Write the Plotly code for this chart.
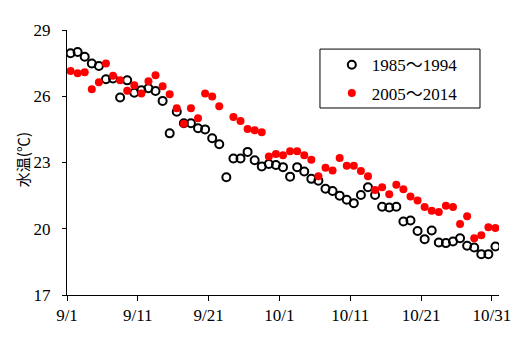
import plotly.graph_objects as go

# ---- data ----
tick_labels = ["9/1", "9/11", "9/21", "10/1", "10/11", "10/21", "10/31"]
tick_day_index = [0, 10, 20, 30, 40, 50, 60]

days = list(range(61))  # 9/1 .. 10/31

temp_1985_1994 = [
    27.95, 28.0, 27.79, 27.48, 27.37, 26.77, 26.8, 25.94, 26.72, 26.16,
    26.27, 26.36, 26.24, 25.79, 24.32, 25.3, 24.78, 24.78, 24.55, 24.5,
    24.1, 23.83, 22.33, 23.18, 23.18, 23.48, 23.1, 22.82, 22.93, 22.89,
    22.79, 22.36, 22.79, 22.59, 22.26, 22.17, 21.81, 21.71, 21.5, 21.31,
    21.16, 21.53, 21.88, 21.53, 21.0, 20.96, 21.0, 20.33, 20.37, 19.9,
    19.53, 19.92, 19.38, 19.35, 19.42, 19.57, 19.23, 19.15, 18.85, 18.85,
    19.2,
]

temp_2005_2014 = [
    27.14, 27.04, 27.09, 26.32, 26.63, 27.48, 26.93, 26.72, 26.25, 26.5,
    26.13, 26.68, 26.95, 26.45, 26.09, 25.46, 24.75, 25.46, 25.0, 26.13,
    25.99, 25.55, None, 25.06, 24.88, 24.52, 24.46, 24.37, 23.27, 23.38,
    23.33, 23.51, 23.51, 23.33, 23.13, 22.38, 22.76, 22.64, 23.2, 22.85,
    22.85, 22.61, 22.38, 21.75, 21.88, 21.56, 21.99, 21.79, 21.46, 21.28,
    20.98, 20.81, 20.76, 21.04, 20.98, 20.21, 20.57, 19.57, 19.71, 20.07,
    20.03,
]

y_ticks = [17, 20, 23, 26, 29]

SERIF = "Liberation Serif, Times New Roman, Noto Sans CJK JP, serif"

fig = go.Figure()
fig.add_trace(go.Scatter(
    x=days, y=temp_1985_1994, mode="markers", name="1985～1994",
    legendgroup="a",
    marker=dict(symbol="circle-open", size=8, color="black",
                line=dict(color="black", width=2)),
))
fig.add_trace(go.Scatter(
    x=days, y=temp_2005_2014, mode="markers", name="2005～2014",
    legendgroup="b",
    marker=dict(symbol="circle", size=8, color="#ff0000"),
))

fig.update_layout(
    width=522, height=355,
    margin=dict(l=67, r=23, t=30, b=60),
    paper_bgcolor="white", plot_bgcolor="white",
    font=dict(family=SERIF, size=17, color="black"),
    showlegend=True,
    legend=dict(
        x=0.613, y=0.935, xanchor="left", yanchor="top",
        borderwidth=0, bgcolor="rgba(0,0,0,0)",
        font=dict(family=SERIF, size=17, color="black"),
        itemwidth=30, tracegroupgap=3,
    ),
    shapes=[dict(
        type="rect", xref="paper", yref="paper",
        x0=0.5856, x1=0.956, y0=0.7057, y1=0.928,
        line=dict(color="black", width=1), fillcolor="rgba(0,0,0,0)",
        layer="below",
    )],
    annotations=[dict(
        text="水温(℃)", textangle=-90, showarrow=False,
        xref="paper", yref="paper", x=-0.104, y=0.509,
        xanchor="center", yanchor="middle",
        font=dict(family="Noto Sans CJK JP, sans-serif", size=15, color="black"),
    )],
)

fig.update_xaxes(
    range=[-0.5, 60.5],
    tickmode="array",
    tickvals=[d - 0.5 for d in tick_day_index],
    ticktext=tick_labels,
    ticks="outside", ticklen=5, tickwidth=1, tickcolor="black",
    showline=True, linecolor="black", linewidth=1,
    showgrid=False, zeroline=False,
)
fig.update_yaxes(
    range=[17, 29],
    tickmode="array", tickvals=y_ticks,
    ticks="outside", ticklen=4, tickwidth=1, tickcolor="black",
    showline=True, linecolor="black", linewidth=1,
    showgrid=False, zeroline=False,
    ticklabelstandoff=8,
)

fig.write_html("out.html", config={"displayModeBar": False},
               post_script="document.body.style.margin='0';")
